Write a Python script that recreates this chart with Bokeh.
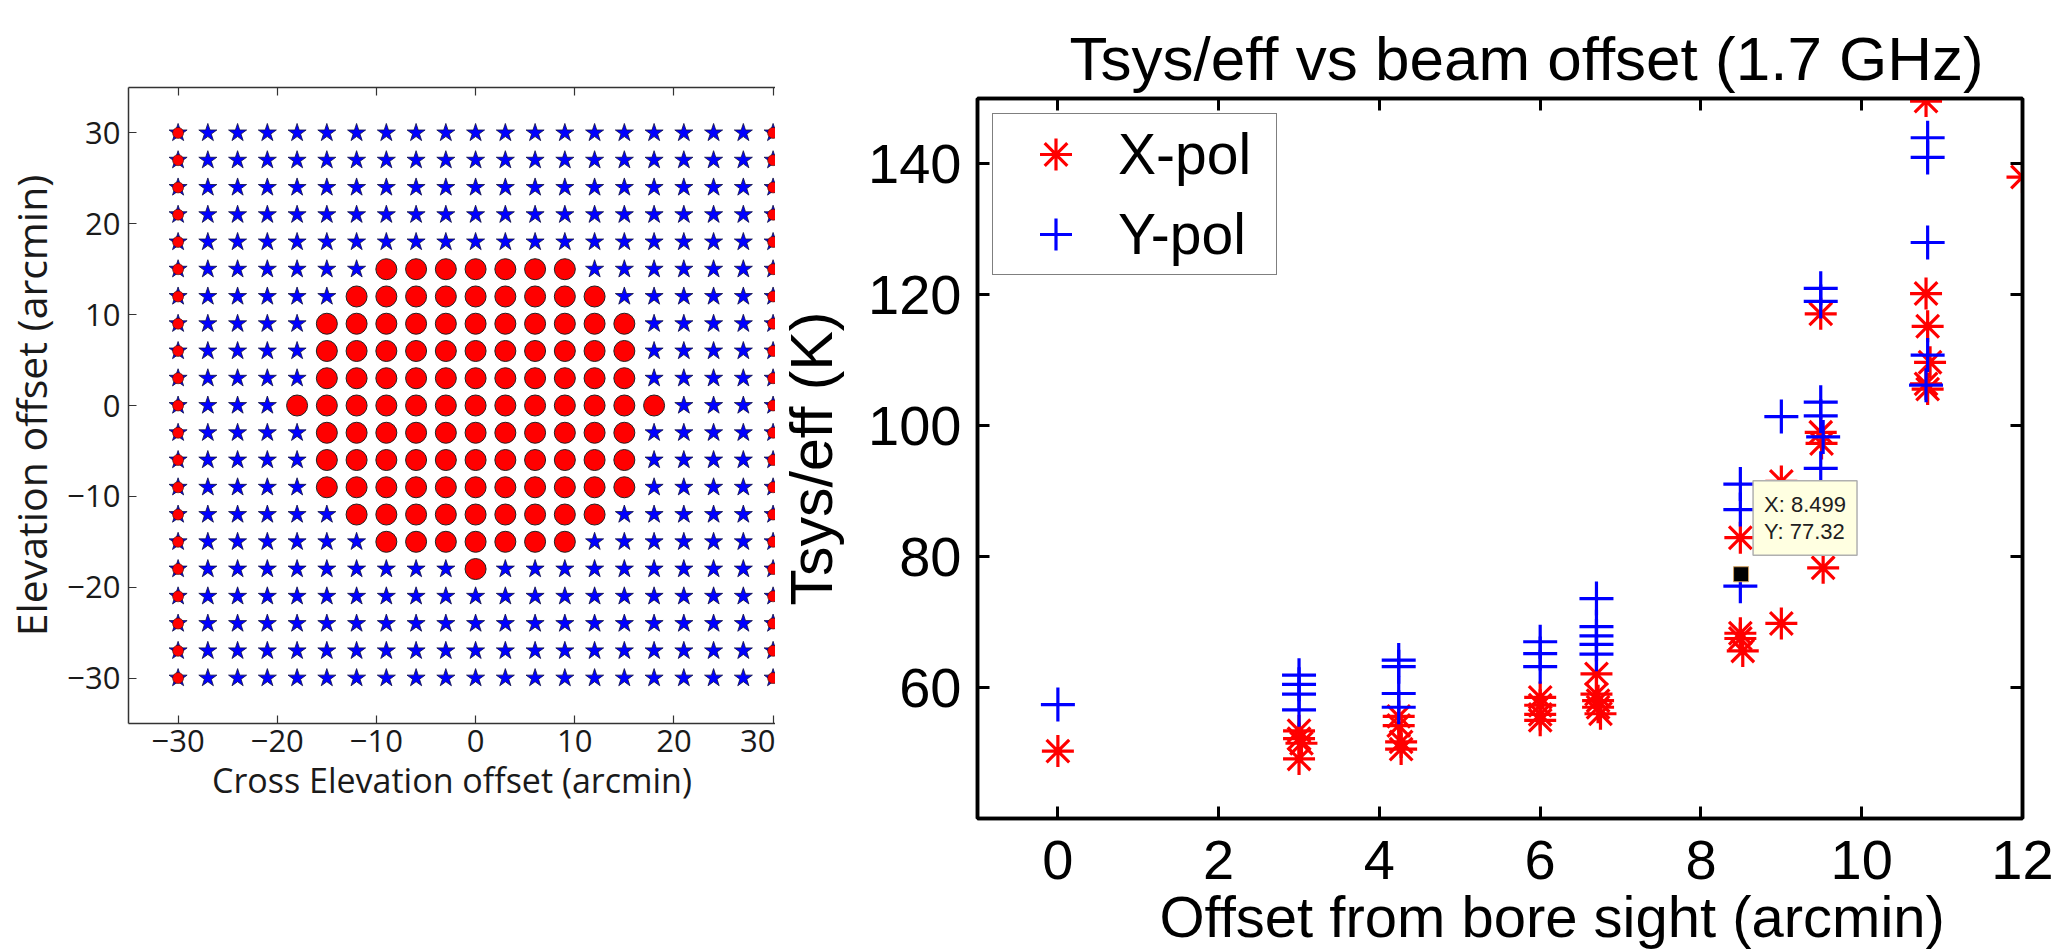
from bokeh.plotting import figure
from bokeh.layouts import row, column
from bokeh.models import (Range1d, LinearAxis, FixedTicker, Legend, LegendItem,
                          Label, Title, ColumnDataSource)
from bokeh.embed import file_html
from bokeh.resources import INLINE

# ---------------- beam map: grid of pointing offsets (arcmin) ----------------
grid_offsets = [-30, -27, -24, -21, -18, -15, -12, -9, -6, -3, 0,
                3, 6, 9, 12, 15, 18, 21, 24, 27, 30]

# elevation rows where the source sits inside the beam, with cross-elevation span
core_el = [15, 12, 9, 6, 3, 0, -3, -6, -9, -12, -15, -18]
core_xel_lo = [-9, -12, -15, -15, -15, -18, -15, -15, -15, -12, -9, 0]
core_xel_hi = [9, 12, 15, 15, 15, 18, 15, 15, 15, 12, 9, 0]

# cross-elevation columns flagged at the scan edges
edge_xel = [-30, 30]

# ---------------- Tsys/eff versus offset from bore sight ----------------
x_pol_offset = [0.0,
                3.0, 3.0, 3.03, 3.0,
                4.24, 4.24, 4.27, 4.27,
                6.0, 6.0, 6.0, 6.0,
                6.7, 6.7, 6.72, 6.72, 6.75,
                8.49, 8.49, 8.49, 8.52,
                9.0, 9.0,
                9.49, 9.49, 9.5, 9.52,
                10.8, 10.8, 10.82, 10.85, 10.8, 10.82,
                12.0]
x_pol_tsys = [50.3,
              53.4, 52.2, 51.5, 49.1,
              55.6, 54.2, 51.7, 50.6,
              58.5, 57.3, 55.9, 55.0,
              62.1, 59.0, 58.0, 57.0, 56.0,
              82.9, 68.3, 67.5, 65.6,
              91.5, 69.8,
              117.1, 99.0, 97.3, 78.3,
              149.6, 120.2, 115.2, 109.7, 106.4, 105.6,
              138.0]

y_pol_offset = [0.0,
                3.0, 3.0, 3.0, 3.0,
                4.24, 4.24, 4.24, 4.24,
                6.0, 6.0, 6.0,
                6.7, 6.7, 6.7, 6.7, 6.7,
                8.49, 8.49, 8.49,
                9.0,
                9.49, 9.49, 9.49, 9.49, 9.52, 9.49,
                10.82, 10.82, 10.82, 10.82, 10.8]
y_pol_tsys = [57.4,
              61.9, 60.5, 59.0, 56.6,
              64.2, 63.2, 59.1, 57.0,
              67.0, 65.2, 63.2,
              73.6, 69.3, 67.9, 66.6, 65.1,
              91.1, 87.2, 75.5,
              101.4,
              121.0, 119.0, 103.6, 101.5, 98.3, 93.5,
              144.0, 141.0, 128.0, 110.8, 106.2]

# data cursor
tip_x = 8.499
tip_y = 77.32

x_ticks = [0, 2, 4, 6, 8, 10, 12]
y_ticks = [60, 80, 100, 120, 140]
map_ticks = [-30, -20, -10, 0, 10, 20, 30]

# ---------------- split the grid into the three marker groups ----------------
core_x, core_y, edge_x, edge_y, off_x, off_y = [], [], [], [], [], []
for el in grid_offsets:
    for xel in grid_offsets:
        inside = False
        if el in core_el:
            k = core_el.index(el)
            inside = core_xel_lo[k] <= xel <= core_xel_hi[k]
        if xel in edge_xel:
            edge_x.append(xel); edge_y.append(el)
        elif inside:
            core_x.append(xel); core_y.append(el)
        else:
            off_x.append(xel); off_y.append(el)

LEFT_W = 775
H = 951
map_font = "Open Sans"

pm = figure(width=LEFT_W, height=H, output_backend="svg", toolbar_location=None,
            x_range=Range1d(-35, -35 + (LEFT_W - 103) / 10.3), y_range=Range1d(-35, 35),
            min_border_left=103, min_border_right=0, min_border_top=87,
            min_border_bottom=H - 723, x_axis_location=None, y_axis_location=None)
pm.grid.visible = False
pm.outline_line_color = None
pm.background_fill_color = "white"
pm.border_fill_color = "white"

pm.scatter(off_x, off_y, marker="star", size=19, fill_color="#0000ff",
           line_color="#101040", line_width=0.8)
pm.scatter(edge_x, edge_y, marker="star", size=19, fill_color="#0000ff",
           line_color="#101040", line_width=0.8)
pm.scatter(edge_x, edge_y, marker="circle", size=11, fill_color="#ff0000",
           line_color="#301010", line_width=0.6)
pm.scatter(core_x, core_y, marker="circle", size=21, fill_color="#ff0000",
           line_color="#202020", line_width=1)


def map_axis(axis, labels=True):
    axis.ticker = FixedTicker(ticks=map_ticks)
    axis.axis_line_color = "#333333"
    axis.axis_line_width = 1.5
    axis.major_tick_line_color = "#333333"
    axis.major_tick_line_width = 1.2
    axis.major_tick_in = 8
    axis.major_tick_out = 0
    axis.minor_tick_line_color = None
    axis.major_label_text_font = map_font
    axis.major_label_text_font_size = "31px" if labels else "0px"
    axis.major_label_text_color = "#1a1a1a" if labels else None
    axis.axis_label_text_font = map_font
    axis.axis_label_text_font_size = "34px"
    axis.axis_label_text_font_style = "normal"
    axis.axis_label_text_color = "#1a1a1a"
    axis.major_label_overrides = {t: ("\u2212" + str(-t) if t < 0 else str(t))
                                  for t in map_ticks}


bx = LinearAxis(axis_label="Cross Elevation offset (arcmin)")
map_axis(bx)
bx.major_label_standoff = 6
bx.axis_label_standoff = 2
pm.add_layout(bx, "below")

ly = LinearAxis(axis_label="Elevation offset (arcmin)")
map_axis(ly)
ly.axis_label_text_font_size = "41px"
ly.major_label_standoff = 8
ly.axis_label_standoff = 5
pm.add_layout(ly, "left")

tx = LinearAxis()
map_axis(tx, labels=False)
pm.add_layout(tx, "above")

# ---------------- Tsys/eff scatter ----------------
RIGHT_W = 2070 - LEFT_W
font = "Liberation Sans"

pt = figure(width=RIGHT_W, height=H, output_backend="svg", toolbar_location=None,
            x_range=Range1d(-1, 12), y_range=Range1d(40, 150),
            min_border_left=977 - LEFT_W, min_border_right=48, min_border_top=98,
            min_border_bottom=133, x_axis_location=None, y_axis_location=None)
pt.grid.visible = False
pt.outline_line_color = "black"
pt.outline_line_width = 3.5

xsrc = ColumnDataSource(dict(x=x_pol_offset, y=x_pol_tsys))
ysrc = ColumnDataSource(dict(x=y_pol_offset, y=y_pol_tsys))
rx = pt.scatter("x", "y", source=xsrc, marker="asterisk", size=32,
                line_color="#ff0000", line_width=3.2)
ry = pt.scatter("x", "y", source=ysrc, marker="cross", size=34,
                line_color="#0000ff", line_width=3.2)


def mat_axis(axis, ticks, labels=True):
    axis.ticker = FixedTicker(ticks=ticks)
    axis.axis_line_color = "black"
    axis.axis_line_width = 3.5
    axis.major_tick_line_color = "black"
    axis.major_tick_line_width = 3
    axis.major_tick_in = 12
    axis.major_tick_out = 0
    axis.minor_tick_line_color = None
    axis.major_label_text_font = font
    axis.major_label_text_font_size = "56px" if labels else "0px"
    axis.major_label_text_color = "black" if labels else None
    axis.major_label_standoff = 22 if labels else 0
    axis.axis_label_text_font = font
    axis.axis_label_text_font_size = "58px"
    axis.axis_label_text_font_style = "normal"
    axis.axis_label_text_color = "black"


xb = LinearAxis()
mat_axis(xb, x_ticks)
pt.add_layout(xb, "below")

# x-axis caption
xcap = Title(text="Offset from bore sight (arcmin)", align="left", offset=182,
             text_font=font, text_font_size="58px", text_font_style="normal",
             text_color="black", standoff=0)
pt.add_layout(xcap, "below")

yl = LinearAxis(axis_label="Tsys/eff (K)")
mat_axis(yl, y_ticks)
yl.axis_label_text_font_size = "59px"
yl.major_label_standoff = 16
yl.axis_label_standoff = 20
pt.add_layout(yl, "left")

xt = LinearAxis()
mat_axis(xt, x_ticks, labels=False)
pt.add_layout(xt, "above")

yr = LinearAxis()
mat_axis(yr, y_ticks, labels=False)
pt.add_layout(yr, "right")

# plot title, centred in the band above the axes
ptitle = Title(text="Tsys/eff vs beam offset (1.7 GHz)", align="left", offset=92,
               vertical_align="middle",
               text_font=font, text_font_size="62px", text_font_style="normal",
               text_color="black", standoff=10)
pt.add_layout(ptitle, "above")

legend = Legend(items=[LegendItem(label="X-pol", renderers=[rx]),
                       LegendItem(label="Y-pol", renderers=[ry])],
                location="top_left", margin=15, padding=0, spacing=-7,
                glyph_width=125, glyph_height=80, label_standoff=0,
                label_width=158, label_text_font=font,
                label_text_font_size="57px", label_text_color="black",
                border_line_color="black", border_line_width=1.5,
                background_fill_color="white", background_fill_alpha=1)
pt.add_layout(legend)

# data cursor marker and readout
pt.scatter([tip_x], [tip_y], marker="square", size=15, fill_color="black",
           line_color="#d0a060", line_width=1)
tip = Label(x=tip_x, y=tip_y, x_offset=12, y_offset=19,
            text="X: {}\nY: {}".format(tip_x, tip_y),
            text_font=font, text_font_size="22px", text_color="#202020",
            text_line_height=1.1,
            background_fill_color="#ffffe1", background_fill_alpha=1,
            border_line_color="#b0b0b0", border_line_width=1.5, padding=11)
pt.add_layout(tip)

# separate columns keep each panel's frame independent of the other
layout = row(column(pm), column(pt), spacing=0)
open("out.html", "w").write(file_html(layout, INLINE))
